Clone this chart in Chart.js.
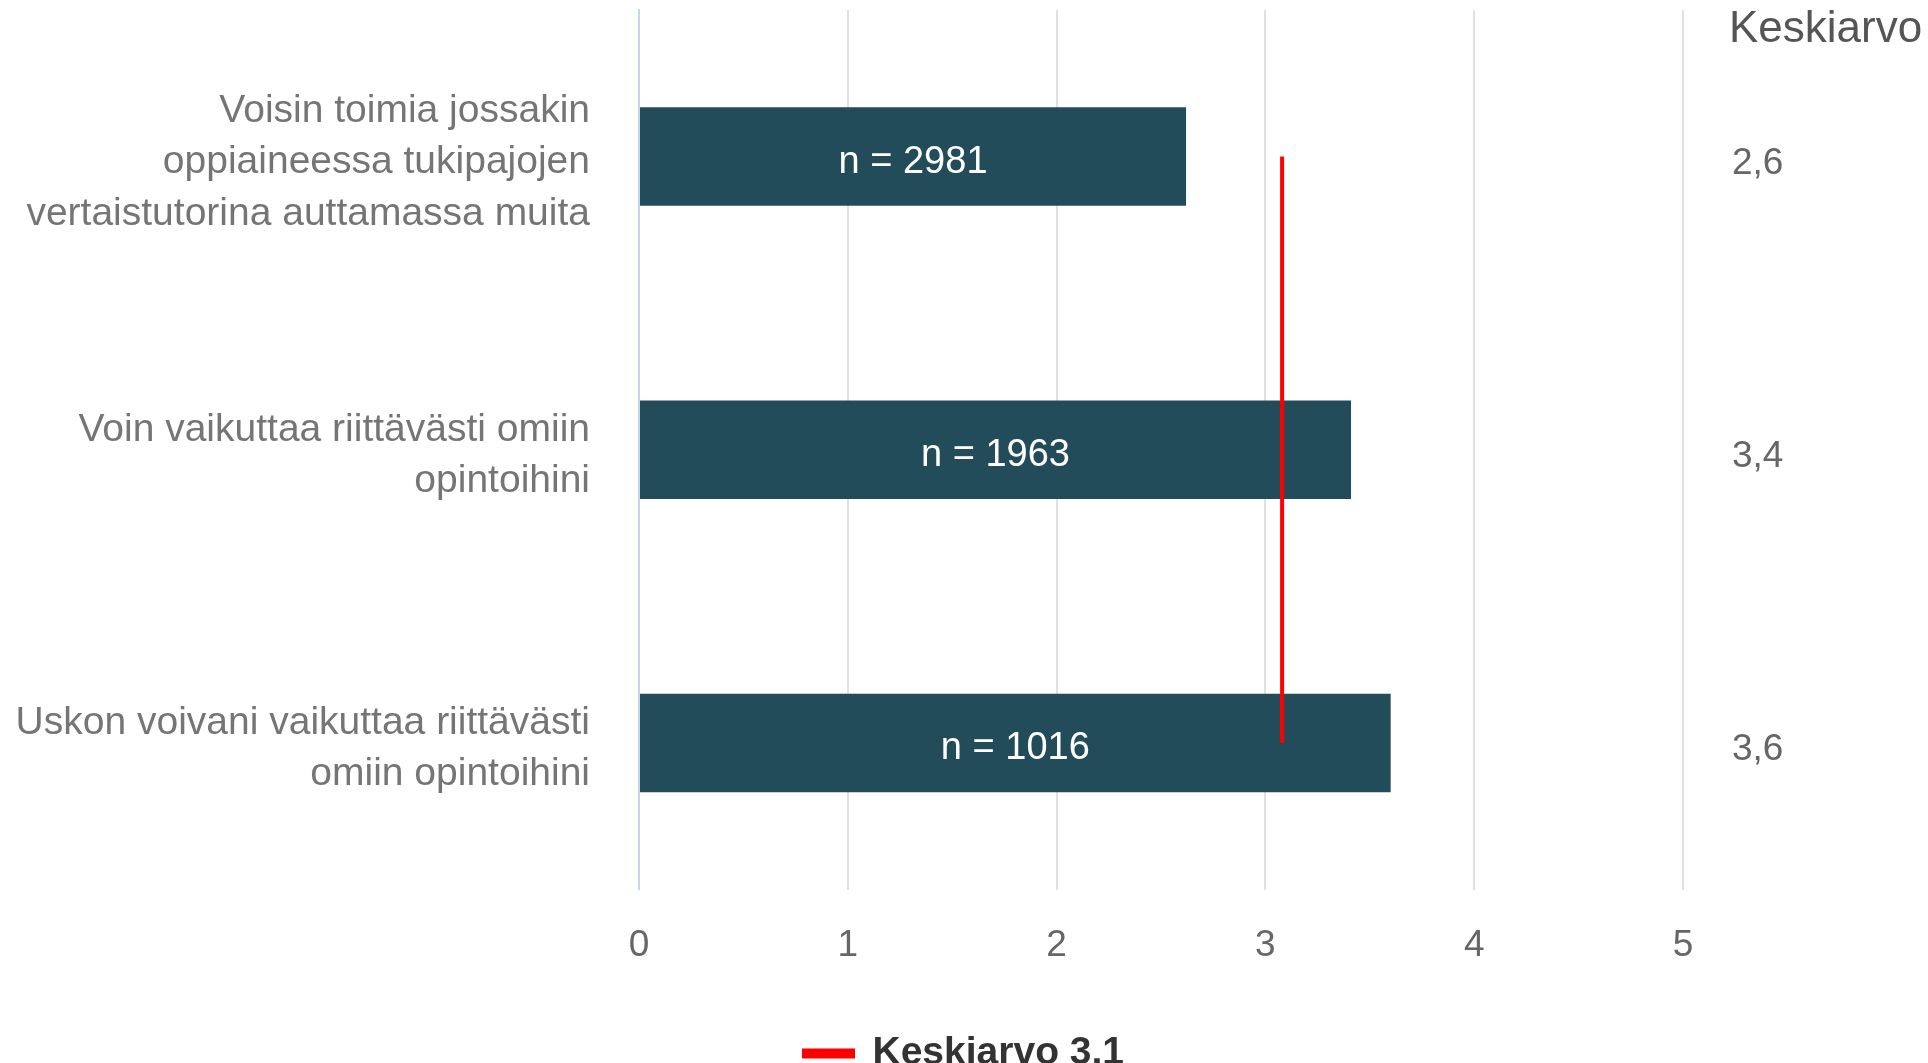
<!DOCTYPE html>
<html>
<head>
<meta charset="utf-8">
<script src="https://cdn.jsdelivr.net/npm/chart.js@4"></script>
<style>
html,body{margin:0;padding:0;background:#fff;overflow:hidden;}
#wrap{width:1928px;height:1083px;position:relative;}
</style>
</head>
<body>
<div id="wrap"><canvas id="c"></canvas></div>
<script>
const categories = [
  ["Voisin toimia jossakin", "oppiaineessa tukipajojen", "vertaistutorina auttamassa muita"],
  ["Voin vaikuttaa riittävästi omiin", "opintoihini"],
  ["Uskon voivani vaikuttaa riittävästi", "omiin opintoihini"]
];
const means = [2.62, 3.41, 3.60];
const respondents = [2981, 1963, 1016];
const meanLabels = ["2,6", "3,4", "3,6"];
const overallMean = [3.08, 3.08, 3.08];
const overallMeanLabel = "Keskiarvo 3,1";
const rightHeader = "Keskiarvo";
const xTickValues = [0, 1, 2, 3, 4, 5];

const FONT = "'Liberation Sans', Arial, sans-serif";

const extras = {
  id: 'extras',
  afterDatasetsDraw(chart) {
    const ctx = chart.ctx;
    const meta = chart.getDatasetMeta(1);
    ctx.save();
    ctx.fillStyle = '#ffffff';
    ctx.font = '38px ' + FONT;
    ctx.textAlign = 'center';
    ctx.textBaseline = 'middle';
    meta.data.forEach((bar, i) => {
      ctx.fillText('n = ' + respondents[i], (bar.base + bar.x) / 2, bar.y + 6);
    });
    const ys = chart.scales.y;
    const right = chart.chartArea.right;
    ctx.fillStyle = '#666666';
    ctx.textAlign = 'left';
    ctx.font = '37px ' + FONT;
    meanLabels.forEach((t, i) => {
      ctx.fillText(t, right + 49, ys.getPixelForValue(i) + 7);
    });
    ctx.fillStyle = '#555555';
    ctx.font = '44px ' + FONT;
    ctx.fillText(rightHeader, right + 46, 30);
    ctx.restore();
  }
};

function noPad(s) { s.paddingTop = 0; s.paddingBottom = 0; }

new Chart(document.getElementById('c'), {
  type: 'bar',
  data: {
    labels: categories,
    datasets: [
      {
        type: 'line',
        label: overallMeanLabel,
        data: overallMean,
        indexAxis: 'y',
        borderColor: '#ff0000',
        backgroundColor: '#ff0000',
        borderWidth: 4,
        pointRadius: 0,
        fill: false,
        order: 0
      },
      {
        type: 'bar',
        label: 'Keskiarvo',
        data: means,
        backgroundColor: '#234C5A',
        barPercentage: 0.336,
        categoryPercentage: 1,
        order: 1
      }
    ]
  },
  options: {
    indexAxis: 'y',
    responsive: true,
    maintainAspectRatio: false,
    animation: false,
    layout: { padding: { top: 10, right: 0, left: 0, bottom: 0 } },
    scales: {
      x: {
        min: 0, max: 5,
        afterBuildTicks(scale) { scale.ticks = xTickValues.map(v => ({ value: v })); },
        grid: { color: '#e0e0e0', lineWidth: 2, drawTicks: false },
        border: { display: false },
        ticks: { color: '#666666', font: { family: FONT, size: 37 }, padding: 34 }
      },
      y: {
        afterFit(s) { noPad(s); s.width = 639; },
        grid: { display: false, drawTicks: false },
        border: { display: true, color: '#c9d6ea', width: 2 },
        ticks: { color: '#757575', font: { family: FONT, size: 39, lineHeight: 1.32 }, padding: 49, labelOffset: 6 }
      },
      yRight: {
        type: 'category',
        position: 'right',
        labels: meanLabels,
        offset: true,
        afterFit(s) { noPad(s); s.width = 245; },
        grid: { display: false, drawTicks: false },
        border: { display: false },
        ticks: { display: false }
      }
    },
    plugins: {
      legend: {
        position: 'bottom',
        labels: {
          filter: (item) => item.datasetIndex === 0,
          color: '#333333',
          font: { family: FONT, size: 39, weight: 'bold' },
          boxWidth: 49,
          boxHeight: 6,
          padding: 32
        }
      },
      tooltip: { enabled: false }
    }
  },
  plugins: [extras]
});
</script>
</body>
</html>
